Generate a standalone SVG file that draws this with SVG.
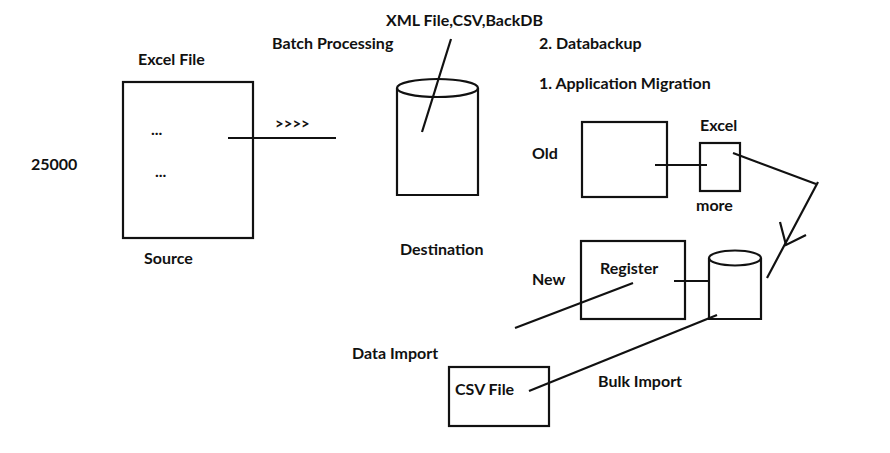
<svg xmlns="http://www.w3.org/2000/svg" width="890" height="453" viewBox="0 0 890 453">
<style>
text{font-family:Lato,"Open Sans","Liberation Sans",sans-serif;font-weight:bold;font-size:16px;fill:#111}
.s{fill:none;stroke:#111;stroke-width:2.2}
</style>
<rect width="890" height="453" fill="#fff"/>
<g id="labels">
<text x="31" y="170">25000</text>
<text x="138" y="65">Excel File</text>
<text x="144" y="264">Source</text>
<text x="272" y="49">Batch Processing</text>
<text x="386" y="26">XML File,CSV,BackDB</text>
<text x="539" y="49">2. Databackup</text>
<text x="539" y="89">1. Application Migration</text>
<text x="400" y="255">Destination</text>
<text x="532" y="159">Old</text>
<text x="532" y="285">New</text>
<text x="700" y="131">Excel</text>
<text x="696" y="211">more</text>
<text x="352" y="359">Data Import</text>
<text x="598" y="387">Bulk Import</text>
</g>
<g id="excel-file">
<rect class="s" x="123" y="82" width="130" height="156"/>
<text x="151" y="135">...</text>
<text x="155" y="177">...</text>
</g>
<g id="destination">
<path class="s" d="M397,88 V195 H478 V88"/>
<ellipse class="s" cx="437.5" cy="88" rx="40.5" ry="9"/>
</g>
<g id="old"><rect class="s" x="582" y="122" width="85" height="75"/></g>
<g id="excel-small"><rect class="s" x="700" y="143" width="40" height="48"/></g>
<g id="register">
<rect class="s" x="581" y="241" width="104" height="78"/>
<text x="600" y="274">Register</text>
</g>
<g id="db">
<path class="s" d="M709,258 V319 H761 V258"/>
<ellipse class="s" cx="735" cy="258" rx="26" ry="7.5"/>
</g>
<g id="csv-file">
<rect class="s" x="449" y="367" width="100" height="59"/>
<text x="455" y="395">CSV File</text>
</g>
<g id="connectors" class="s">
<line x1="228" y1="138" x2="336" y2="138"/>
<text x="275" y="129" style="stroke:none;font-size:15px">&gt;&gt;&gt;&gt;</text>
<line x1="451" y1="39" x2="422" y2="132"/>
<line x1="655" y1="165" x2="707" y2="165"/>
<line x1="733" y1="153" x2="816" y2="184"/>
<line x1="818" y1="182" x2="767" y2="278"/>
<polyline points="780,222 786,245 806,235"/>
<line x1="674" y1="281" x2="709" y2="281"/>
<line x1="633" y1="283" x2="515" y2="328"/>
<line x1="717" y1="315" x2="529" y2="391"/>
</g>
</svg>
